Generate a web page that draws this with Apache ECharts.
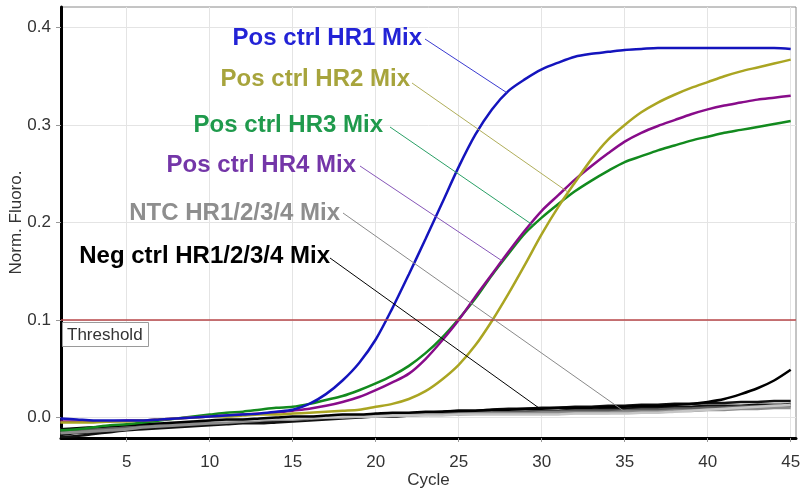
<!DOCTYPE html>
<html>
<head>
<meta charset="utf-8">
<script src="https://cdn.jsdelivr.net/npm/echarts@6/dist/echarts.min.js"></script>
<style>
  html, body { margin: 0; padding: 0; background: #fff; }
  #chart { width: 800px; height: 489px; }
</style>
</head>
<body>
<div id="chart"></div>
<script>
// cycle numbers (x)
const cycles = [1,2,3,4,5,6,7,8,9,10,11,12,13,14,15,16,17,18,19,20,21,22,23,24,25,26,27,28,29,30,31,32,33,34,35,36,37,38,39,40,41,42,43,44,45];
const xTicks = [5,10,15,20,25,30,35,40,45];
const yTicks = [0, 0.1, 0.2, 0.3, 0.4];
const thresholdValue = 0.1;

// Pos ctrl curves (Norm. Fluoro.)
const hr1 = [-0.001,-0.002,-0.003,-0.003,-0.003,-0.003,-0.002,-0.001,0.000,0.001,0.002,0.003,0.004,0.006,0.008,0.014,0.024,0.038,0.056,0.080,0.112,0.147,0.183,0.220,0.257,0.290,0.316,0.335,0.347,0.357,0.364,0.370,0.373,0.375,0.377,0.378,0.379,0.379,0.379,0.379,0.379,0.379,0.379,0.379,0.378];
const hr2 = [-0.005,-0.005,-0.005,-0.004,-0.004,-0.003,-0.002,-0.001,0.000,0.001,0.001,0.002,0.003,0.003,0.004,0.005,0.006,0.007,0.008,0.011,0.014,0.019,0.027,0.039,0.054,0.074,0.099,0.127,0.157,0.188,0.216,0.241,0.265,0.285,0.300,0.313,0.323,0.331,0.338,0.344,0.350,0.355,0.359,0.363,0.367];
const hr3 = [-0.013,-0.012,-0.010,-0.008,-0.007,-0.005,-0.003,-0.001,0.001,0.003,0.005,0.006,0.008,0.010,0.011,0.014,0.018,0.022,0.028,0.035,0.043,0.053,0.066,0.082,0.101,0.122,0.146,0.168,0.189,0.205,0.219,0.232,0.243,0.253,0.262,0.268,0.274,0.279,0.284,0.288,0.292,0.295,0.298,0.301,0.304];
const hr4 = [-0.004,-0.004,-0.004,-0.004,-0.003,-0.003,-0.002,-0.001,0.000,0.001,0.002,0.003,0.004,0.005,0.007,0.009,0.012,0.016,0.021,0.028,0.036,0.045,0.060,0.079,0.100,0.124,0.147,0.170,0.192,0.212,0.228,0.244,0.258,0.271,0.283,0.292,0.299,0.305,0.311,0.316,0.320,0.323,0.326,0.328,0.330];

// Neg ctrl replicates
const neg1 = [-0.012,-0.011,-0.010,-0.009,-0.008,-0.007,-0.006,-0.005,-0.004,-0.003,-0.002,-0.002,-0.001,0.000,0.001,0.001,0.002,0.003,0.003,0.004,0.005,0.005,0.006,0.006,0.007,0.007,0.008,0.008,0.009,0.009,0.010,0.010,0.010,0.011,0.011,0.012,0.012,0.013,0.014,0.016,0.019,0.024,0.030,0.038,0.049];
const neg2 = [-0.018,-0.016,-0.015,-0.013,-0.012,-0.011,-0.010,-0.009,-0.008,-0.007,-0.006,-0.005,-0.004,-0.003,-0.002,-0.001,0.000,0.001,0.002,0.003,0.003,0.004,0.005,0.006,0.007,0.007,0.008,0.009,0.009,0.010,0.010,0.011,0.011,0.012,0.012,0.013,0.013,0.014,0.014,0.015,0.015,0.016,0.016,0.017,0.017];
const neg3 = [-0.020,-0.019,-0.017,-0.015,-0.013,-0.012,-0.011,-0.010,-0.009,-0.008,-0.007,-0.006,-0.006,-0.005,-0.004,-0.003,-0.002,-0.001,0.000,0.001,0.001,0.002,0.003,0.003,0.004,0.005,0.005,0.006,0.006,0.007,0.007,0.008,0.008,0.009,0.009,0.010,0.010,0.011,0.011,0.012,0.012,0.012,0.013,0.013,0.014];

// NTC replicates
const ntc1 = [-0.016,-0.015,-0.014,-0.013,-0.012,-0.010,-0.009,-0.008,-0.007,-0.006,-0.005,-0.004,-0.003,-0.002,-0.002,-0.001,0.000,0.000,0.001,0.001,0.002,0.002,0.003,0.003,0.003,0.004,0.004,0.004,0.004,0.005,0.005,0.005,0.005,0.005,0.006,0.006,0.006,0.007,0.007,0.008,0.008,0.009,0.009,0.010,0.010];
const ntc2 = [-0.012,-0.011,-0.010,-0.009,-0.008,-0.007,-0.006,-0.005,-0.004,-0.003,-0.003,-0.002,-0.002,-0.001,-0.001,0.000,0.000,0.001,0.001,0.001,0.002,0.002,0.002,0.002,0.003,0.003,0.003,0.003,0.003,0.003,0.003,0.004,0.004,0.004,0.004,0.005,0.005,0.006,0.007,0.008,0.009,0.010,0.011,0.012,0.013];
const ntc3 = [-0.014,-0.013,-0.012,-0.011,-0.010,-0.009,-0.008,-0.007,-0.006,-0.005,-0.004,-0.003,-0.002,-0.001,0.000,0.000,0.001,0.001,0.002,0.002,0.003,0.003,0.004,0.004,0.005,0.005,0.005,0.006,0.006,0.006,0.006,0.007,0.007,0.007,0.007,0.008,0.008,0.009,0.009,0.010,0.010,0.011,0.011,0.012,0.012];

// legend-style labels and the cycle each leader points at
const labelNames = ['Pos ctrl HR1 Mix', 'Pos ctrl HR2 Mix', 'Pos ctrl HR3 Mix', 'Pos ctrl HR4 Mix', 'NTC HR1/2/3/4 Mix', 'Neg ctrl HR1/2/3/4 Mix'];
const labelSeries = [hr1, hr2, hr3, hr4, ntc1, neg1];
const leaderCycles = [27.9, 31.6, 29.5, 27.6, 35.0, 29.9];

function pairs(arr) {
  return cycles.map((c, i) => [c, arr[i]]);
}

function valueAt(arr, c) {   // value between two cycles
  const i = Math.floor(c) - 1;
  const f = c - Math.floor(c);
  if (i + 1 >= arr.length) return arr[arr.length - 1];
  return arr[i] + (arr[i + 1] - arr[i]) * f;
}

function curve(name, arr, color, width, extra) {
  return Object.assign({
    name: name,
    type: 'line',
    data: pairs(arr),
    showSymbol: false,
    symbol: 'none',
    silent: true,
    smooth: 0.3,
    lineStyle: { color: color, width: width },
    itemStyle: { color: color }
  }, extra || {});
}

const chart = echarts.init(document.getElementById('chart'), null, { renderer: 'canvas' });

const option = {
  animation: false,
  backgroundColor: '#fff',
  grid: {  // plot box
    left: 61, right: 4, top: 7, bottom: 51,
    outerBoundsMode: 'none',
    show: true, borderColor: '#8a8a8a', borderWidth: 1
  },
  xAxis: {
    type: 'value',
    min: 1.04, max: 45.32,
    name: 'Cycle',
    nameLocation: 'middle',
    nameMoveOverlap: false,
    nameGap: 34,
    nameTextStyle: { fontSize: 17, color: '#333', fontFamily: 'Liberation Sans, Arial' },
    axisLine: { onZero: false, lineStyle: { color: '#000', width: 3 } },
    axisTick: { show: true, customValues: xTicks, length: 4, lineStyle: { color: '#999' } },
    axisLabel: { customValues: xTicks, fontSize: 17, color: '#333', margin: 16, fontFamily: 'Liberation Sans, Arial' },
    splitLine: { show: true, lineStyle: { color: '#e4e4e4', width: 1 } }
  },
  yAxis: {
    type: 'value',
    min: -0.021, max: 0.421,
    name: 'Norm. Fluoro.',
    nameLocation: 'middle',
    nameMoveOverlap: false,
    nameRotate: 90,
    nameGap: 36,
    nameTextStyle: { fontSize: 17, color: '#333', fontFamily: 'Liberation Sans, Arial' },
    axisLine: { onZero: false, lineStyle: { color: '#000', width: 3 } },
    axisTick: { show: true, customValues: yTicks, length: 5, lineStyle: { color: '#999' } },
    axisLabel: { customValues: yTicks, fontSize: 17, color: '#333', margin: 10, fontFamily: 'Liberation Sans, Arial',
      formatter: v => v.toFixed(1) },
    splitLine: { show: true, lineStyle: { color: '#e4e4e4', width: 1 } }
  },
  series: [
    curve('neg3', neg3, '#111', 2.5),
    curve('neg2', neg2, '#111', 2.5),
    curve('ntc3', ntc3, '#5c5c5c', 3),
    curve('ntc1', ntc1, '#8c8c8c', 3),
    curve('ntc2', ntc2, '#c6c6c6', 2.5),
    curve('neg1', neg1, '#000', 2.5, {
      markLine: {   // threshold line
        silent: true,
        symbol: 'none',
        label: { show: false },
        lineStyle: { color: '#b8474a', width: 1.5, type: 'solid' },
        data: [{ yAxis: thresholdValue }]
      }
    }),
    curve('HR3', hr3, '#128a1e', 2.5),
    curve('HR4', hr4, '#880c8a', 2.5),
    curve('HR2', hr2, '#aaa522', 2.5),
    curve('HR1', hr1, '#1414bd', 2.5)
  ]
};
chart.setOption(option);

// labels + leader lines
const labelColors = ['#2323d6', '#a7a43c', '#1f9a4c', '#7436a8', '#8e8e8e', '#000000'];
const leaderColors = ['#3a3ad0', '#b0ae5a', '#2aa066', '#8656b8', '#8a8a8a', '#000000'];
const labelRight = [422, 410, 383, 356, 340, 330];   // right end of each label text
const labelMidY = [38, 79, 125, 165, 213, 256];
const leaderStart = [[425, 39], [412, 83], [390, 127], [360, 166], [343, 213], [330, 258]];

const graphics = [];
labelNames.forEach((txt, i) => {
  const end = chart.convertToPixel({ gridIndex: 0 }, [leaderCycles[i], valueAt(labelSeries[i], leaderCycles[i])]);
  graphics.push({
    type: 'line', silent: true, z: 50,
    shape: { x1: leaderStart[i][0], y1: leaderStart[i][1], x2: end[0], y2: end[1] },
    style: { stroke: leaderColors[i], lineWidth: 1 }
  });
  graphics.push({
    type: 'text', silent: true, z: 51,
    x: labelRight[i], y: labelMidY[i],
    style: {
      text: txt, fill: labelColors[i],
      font: 'bold 24px "Liberation Sans", Arial, sans-serif',
      align: 'right', verticalAlign: 'middle'
    }
  });
});

// Threshold tag
graphics.push({
  type: 'rect', silent: true, z: 52,
  shape: { x: 62.5, y: 322.5, width: 86, height: 24 },
  style: { fill: '#fff', stroke: '#9a9a9a', lineWidth: 1 }
});
graphics.push({
  type: 'text', silent: true, z: 53,
  x: 67, y: 335,
  style: { text: 'Threshold', fill: '#333', font: '17px "Liberation Sans", Arial, sans-serif', verticalAlign: 'middle' }
});

chart.setOption({ graphic: graphics });
</script>
</body>
</html>
